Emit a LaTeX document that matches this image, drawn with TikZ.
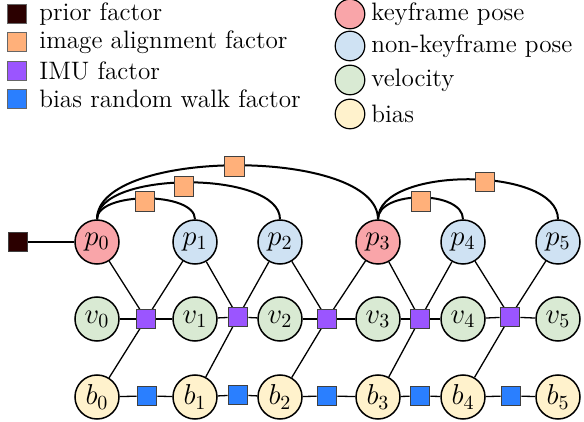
\documentclass[tikz,border=0pt]{standalone}
\usetikzlibrary{backgrounds}
\definecolor{kfcol}{HTML}{F9A5A9}
\definecolor{nkcol}{HTML}{CFE2F3}
\definecolor{velcol}{HTML}{D9EAD3}
\definecolor{biascol}{HTML}{FFF2CC}
\definecolor{priorcol}{HTML}{2B0000}
\definecolor{imgcol}{HTML}{FFB07A}
\definecolor{imucol}{HTML}{9B55FF}
\definecolor{rwcol}{HTML}{2A7FFF}
\begin{document}
\begin{tikzpicture}[x=0.5pt,y=-0.5pt,
  var/.style={circle,draw=black,line width=0.75pt,minimum size=22pt,inner sep=0pt,font=\fontsize{14}{16}\selectfont},
  fac/.style={rectangle,draw=black!75,line width=0.5pt,minimum size=9.8pt,inner sep=0pt},
  lvar/.style={circle,draw=black,line width=0.6pt,minimum size=14.8pt,inner sep=0pt},
  lfac/.style={rectangle,draw=black!60,line width=0.4pt,minimum size=9.5pt,inner sep=0pt},
  ltext/.style={anchor=west,inner sep=0pt,font=\rmfamily\fontsize{12.6}{14}\selectfont},
  edge/.style={line width=0.65pt},
  arcedge/.style={line width=1pt}]
\useasboundingbox (0,0) rectangle (584,422);
% legend
\node[lfac,fill=priorcol] (lpr) at (17,14) {};
\node[ltext] (tpr) at (39,14) {prior factor};
\node[lfac,fill=imgcol] (lim) at (17,42) {};
\node[ltext] (tim) at (39,42) {image alignment factor};
\node[lfac,fill=imucol] (limu) at (17,71) {};
\node[ltext] (timu) at (39,71) {IMU factor};
\node[lfac,fill=rwcol] (lrw) at (17,99) {};
\node[ltext] (trw) at (39,99) {bias random walk factor};
\node[lvar,fill=kfcol] (lkf) at (350,14) {};
\node[ltext] (tkf) at (371,14) {keyframe pose};
\node[lvar,fill=nkcol] (lnk) at (350,46) {};
\node[ltext] (tnk) at (371,46) {non-keyframe pose};
\node[lvar,fill=velcol] (lv) at (350,80) {};
\node[ltext] (tv) at (371,80) {velocity};
\node[lvar,fill=biascol] (lb) at (350,114) {};
\node[ltext] (tb) at (371,114) {bias};
% variables
\node[var,fill=kfcol] (p0) at (97,242) {$p_0$};
\node[var,fill=nkcol] (p1) at (195,242) {$p_1$};
\node[var,fill=nkcol] (p2) at (280,242) {$p_2$};
\node[var,fill=kfcol] (p3) at (378,242) {$p_3$};
\node[var,fill=nkcol] (p4) at (463,242) {$p_4$};
\node[var,fill=nkcol] (p5) at (558,242) {$p_5$};
\node[var,fill=velcol] (v0) at (97,319) {$v_0$};
\node[var,fill=velcol] (v1) at (195,319) {$v_1$};
\node[var,fill=velcol] (v2) at (280,319) {$v_2$};
\node[var,fill=velcol] (v3) at (378,319) {$v_3$};
\node[var,fill=velcol] (v4) at (463,319) {$v_4$};
\node[var,fill=velcol] (v5) at (558,319) {$v_5$};
\node[var,fill=biascol] (b0) at (97,397) {$b_0$};
\node[var,fill=biascol] (b1) at (195,397) {$b_1$};
\node[var,fill=biascol] (b2) at (280,397) {$b_2$};
\node[var,fill=biascol] (b3) at (378,397) {$b_3$};
\node[var,fill=biascol] (b4) at (463,397) {$b_4$};
\node[var,fill=biascol] (b5) at (558,397) {$b_5$};
% factors
\node[fac,fill=priorcol] (fpr) at (18,242) {};
\node[fac,fill=imucol] (m0) at (146,319) {};
\node[fac,fill=imucol] (m1) at (238,317) {};
\node[fac,fill=imucol] (m2) at (327,319) {};
\node[fac,fill=imucol] (m3) at (420,319) {};
\node[fac,fill=imucol] (m4) at (510,317) {};
\node[fac,fill=rwcol] (r0) at (147,396) {};
\node[fac,fill=rwcol] (r1) at (238,395) {};
\node[fac,fill=rwcol] (r2) at (327,396) {};
\node[fac,fill=rwcol] (r3) at (420,396) {};
\node[fac,fill=rwcol] (r4) at (511,396) {};
\begin{pgfonlayer}{background}
\draw[edge] (fpr) -- (p0);
\foreach \i/\j in {0/1,1/2,2/3,3/4,4/5}{
  \draw[edge] (v\i) -- (m\i) -- (v\j);
  \draw[edge] (b\i) -- (r\i) -- (b\j);
  \draw[edge] (p\i) -- (m\i.center);
  \draw[edge] (p\j) -- (m\i.center);
  \draw[edge] (b\i) -- (m\i.center);
}
\end{pgfonlayer}
% image alignment factors on arcs
\draw[arcedge] (p0.north) to[out=90,in=90,looseness=0.657]
  node[fac,fill=imgcol,pos=0.493,yshift=-0.5pt] (a03) {} (p3.north);
\draw[arcedge] (p0.north) to[out=90,in=90,looseness=0.69]
  node[fac,fill=imgcol,pos=0.483,yshift=-2pt] (a02) {} (p2.north);
\draw[arcedge] (p0.north) to[out=90,in=90,looseness=0.73]
  node[fac,fill=imgcol,pos=0.493,yshift=-1.5pt] (a01) {} (p1.north);
\draw[arcedge] (p3.north) to[out=90,in=90,looseness=0.76]
  node[fac,fill=imgcol,pos=0.563,yshift=-1pt] (a35) {} (p5.north);
\draw[arcedge] (p3.north) to[out=90,in=90,looseness=0.88]
  node[fac,fill=imgcol,pos=0.504,yshift=-2pt] (a34) {} (p4.north);
\end{tikzpicture}
\end{document}
